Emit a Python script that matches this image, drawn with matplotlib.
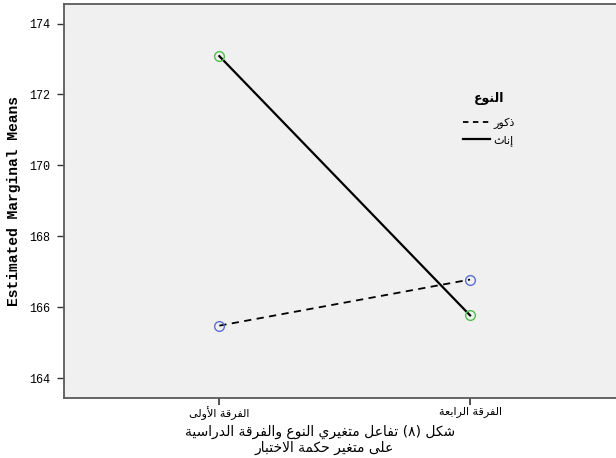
import matplotlib
matplotlib.use("Agg")
import matplotlib.pyplot as plt
from matplotlib.lines import Line2D

# ---------------- data ----------------
categories = ["الفرقة الأولى", "الفرقة الرابعة"]
female_means = [173.08, 165.77]   # إناث
male_means = [165.48, 166.78]     # ذكور
legend_title = "النوع"
male_label = "ذكور"
female_label = "إناث"
y_ticks = [164, 166, 168, 170, 172, 174]
y_label = "Estimated Marginal Means"
caption_lines = ["شكل (٨) تفاعل متغيري النوع والفرقة الدراسية",
                 "على متغير حكمة الاختبار"]

# ------------- minimal Arabic shaping -------------
FORMS = {
    'ا': (0xFE8D, 0xFE8E), 'أ': (0xFE83, 0xFE84), 'إ': (0xFE87, 0xFE88),
    'آ': (0xFE81, 0xFE82), 'ء': (0xFE80,),
    'ب': (0xFE8F, 0xFE90, 0xFE91, 0xFE92), 'ة': (0xFE93, 0xFE94),
    'ت': (0xFE95, 0xFE96, 0xFE97, 0xFE98), 'ث': (0xFE99, 0xFE9A, 0xFE9B, 0xFE9C),
    'ج': (0xFE9D, 0xFE9E, 0xFE9F, 0xFEA0), 'ح': (0xFEA1, 0xFEA2, 0xFEA3, 0xFEA4),
    'خ': (0xFEA5, 0xFEA6, 0xFEA7, 0xFEA8), 'د': (0xFEA9, 0xFEAA),
    'ذ': (0xFEAB, 0xFEAC), 'ر': (0xFEAD, 0xFEAE), 'ز': (0xFEAF, 0xFEB0),
    'س': (0xFEB1, 0xFEB2, 0xFEB3, 0xFEB4), 'ش': (0xFEB5, 0xFEB6, 0xFEB7, 0xFEB8),
    'ص': (0xFEB9, 0xFEBA, 0xFEBB, 0xFEBC), 'ض': (0xFEBD, 0xFEBE, 0xFEBF, 0xFEC0),
    'ط': (0xFEC1, 0xFEC2, 0xFEC3, 0xFEC4), 'ظ': (0xFEC5, 0xFEC6, 0xFEC7, 0xFEC8),
    'ع': (0xFEC9, 0xFECA, 0xFECB, 0xFECC), 'غ': (0xFECD, 0xFECE, 0xFECF, 0xFED0),
    'ف': (0xFED1, 0xFED2, 0xFED3, 0xFED4), 'ق': (0xFED5, 0xFED6, 0xFED7, 0xFED8),
    'ك': (0xFED9, 0xFEDA, 0xFEDB, 0xFEDC), 'ل': (0xFEDD, 0xFEDE, 0xFEDF, 0xFEE0),
    'م': (0xFEE1, 0xFEE2, 0xFEE3, 0xFEE4), 'ن': (0xFEE5, 0xFEE6, 0xFEE7, 0xFEE8),
    'ه': (0xFEE9, 0xFEEA, 0xFEEB, 0xFEEC), 'و': (0xFEED, 0xFEEE),
    'ى': (0xFEEF, 0xFEF0), 'ي': (0xFEF1, 0xFEF2, 0xFEF3, 0xFEF4),
}
LAM_ALEF = {'ا': (0xFEFB, 0xFEFC), 'أ': (0xFEF7, 0xFEF8),
            'إ': (0xFEF9, 0xFEFA), 'آ': (0xFEF5, 0xFEF6)}
MIRROR = {'(': ')', ')': '('}


def shape(text):
    out = []
    i = 0
    n = len(text)
    prev_dual = False
    while i < n:
        c = text[i]
        if c in FORMS:
            if c == 'ل' and i + 1 < n and text[i + 1] in LAM_ALEF:
                f = LAM_ALEF[text[i + 1]]
                out.append(chr(f[1] if prev_dual else f[0]))
                prev_dual = False
                i += 2
                continue
            f = FORMS[c]
            dual = len(f) == 4
            nxt = dual and i + 1 < n and text[i + 1] in FORMS
            if prev_dual and nxt:
                g = f[3]
            elif prev_dual:
                g = f[1]
            elif nxt:
                g = f[2]
            else:
                g = f[0]
            out.append(chr(g))
            prev_dual = dual
        else:
            out.append(MIRROR.get(c, c))
            prev_dual = False
        i += 1
    return ''.join(reversed(out))


# ---------------- figure ----------------
W, H = 616, 458
fig = plt.figure(figsize=(W / 100, H / 100), dpi=100)
fig.patch.set_facecolor("white")

ax_l, ax_r, ax_t, ax_b = 64, 616, 4, 398
ax = fig.add_axes([ax_l / W, 1 - ax_b / H, (ax_r - ax_l) / W, (ax_b - ax_t) / H])
ax.set_facecolor("#F0F0F0")

x = list(range(len(categories)))
ax.plot(x, male_means, color="black", linestyle=(0, (4, 3)), linewidth=1.3,
        zorder=2)
ax.plot(x, female_means, color="black", linestyle="-", linewidth=1.6,
        zorder=2)
ax.plot(x, male_means, linestyle="none", marker="o", markersize=7,
        markerfacecolor="none", markeredgecolor="#5C6FD0",
        markeredgewidth=1.0, zorder=3)
ax.plot(x, female_means, linestyle="none", marker="o", markersize=7,
        markerfacecolor="none", markeredgecolor="#4CC04C",
        markeredgewidth=1.0, zorder=3)

ax.set_xlim(-0.6195, 1.582)
ax.set_ylim(163.44, 174.55)
ax.set_xticks(x)
ax.set_xticklabels([shape(c) for c in categories], fontfamily="DejaVu Sans",
                   fontsize=8)
ax.set_yticks(y_ticks)
ax.set_yticklabels([str(v) for v in y_ticks], fontfamily="Liberation Mono",
                   fontsize=8.5)
ax.tick_params(axis="x", direction="out", length=5, width=1.2,
               color="#333333", pad=1)
ax.tick_params(axis="y", direction="out", length=5, width=1.0,
               color="#333333", pad=5)

for side in ("left", "bottom", "top"):
    ax.spines[side].set_color("#5A5A5A")
    ax.spines[side].set_linewidth(1.3)
ax.spines["right"].set_visible(False)

ax.set_ylabel(y_label, fontfamily="Liberation Mono", fontweight="bold",
              fontsize=10.5, labelpad=6)

handles = [
    Line2D([], [], color="black", linestyle=(0, (3, 2.5)), linewidth=1.3),
    Line2D([], [], color="black", linestyle="-", linewidth=1.6),
]
leg = ax.legend(handles, [shape(male_label), shape(female_label)],
                title=shape(legend_title), frameon=False,
                loc="upper left",
                bbox_to_anchor=(463 / W, 1 - 92 / H),
                bbox_transform=fig.transFigure,
                prop={"family": "DejaVu Sans", "size": 8},
                handlelength=2.4, handletextpad=0.3, labelspacing=0.55,
                borderaxespad=0, borderpad=0)
leg.get_title().set_fontfamily("DejaVu Sans")
leg.get_title().set_fontweight("bold")
leg.get_title().set_fontsize(9)
leg._legend_box.sep = 9

fig.text(320 / W, 1 - 432 / H, shape(caption_lines[0]), ha="center",
         va="center", fontfamily="DejaVu Sans", fontsize=10)
fig.text(324 / W, 1 - 448 / H, shape(caption_lines[1]), ha="center",
         va="center", fontfamily="DejaVu Sans", fontsize=10)

fig.savefig("out.png", dpi=100)
